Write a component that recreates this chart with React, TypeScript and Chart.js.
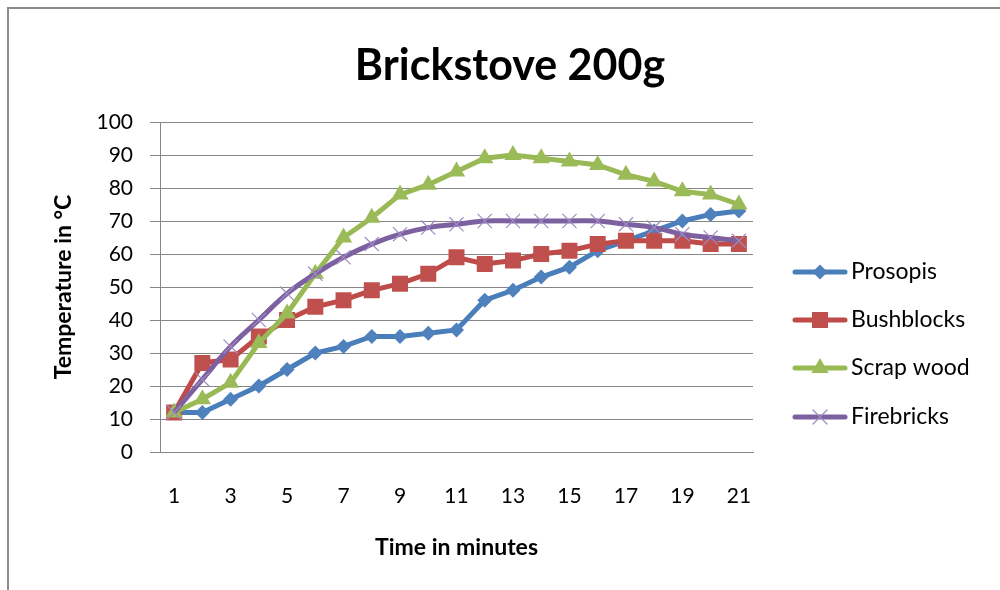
import React, { useEffect, useRef } from "react";
import { Chart, registerables } from "chart.js";

Chart.register(...registerables);

const titleText = "Brickstove 200g";
const xTitle = "Time in minutes";
const yTitle = "Temperature in °C";
const minutes = ["1","2","3","4","5","6","7","8","9","10","11","12","13","14","15","16","17","18","19","20","21"];
const prosopis = [12, 12, 16, 20, 25, 30, 32, 35, 35, 36, 37, 46, 49, 53, 56, 61, 64, 67, 70, 72, 73];
const bushblocks = [12, 27, 28, 35, 40, 44, 46, 49, 51, 54, 59, 57, 58, 60, 61, 63, 64, 64, 64, 63, 63];
const scrapWood = [12, 16, 21, 33, 42, 54, 65, 71, 78, 81, 85, 89, 90, 89, 88, 87, 84, 82, 79, 78, 75];
const firebricks = [12, 22, 32, 40, 48, 54, 59, 63, 66, 68, 69, 70, 70, 70, 70, 70, 69, 68, 66, 65, 64];
const seriesNames = ["Prosopis", "Bushblocks", "Scrap wood", "Firebricks"];

const FONT = "Lato, 'Noto Sans', sans-serif";

const lineColors = ["#4a7ebb", "#be4b48", "#98b954", "#7d60a0"];
const markerColors = ["#4f81bd", "#c0504d", "#9bbb59", "#9f8bc3"];

function drawMarker(ctx: CanvasRenderingContext2D, kind: number, x: number, y: number) {
  ctx.save();
  ctx.fillStyle = markerColors[kind];
  ctx.strokeStyle = markerColors[kind];
  ctx.beginPath();
  if (kind === 0) {
    const r = 7.5;
    ctx.moveTo(x, y - r); ctx.lineTo(x + r, y); ctx.lineTo(x, y + r); ctx.lineTo(x - r, y); ctx.closePath(); ctx.fill();
  } else if (kind === 1) {
    const s = 8;
    ctx.rect(x - s, y - s, 2 * s, 2 * s); ctx.fill();
  } else if (kind === 2) {
    const r = 10;
    ctx.moveTo(x, y - r);
    ctx.lineTo(x + Math.sin(2 * Math.PI / 3) * r, y - Math.cos(2 * Math.PI / 3) * r);
    ctx.lineTo(x + Math.sin(4 * Math.PI / 3) * r, y - Math.cos(4 * Math.PI / 3) * r);
    ctx.closePath(); ctx.fill();
  } else {
    const r = 7;
    ctx.lineWidth = 1.2;
    ctx.moveTo(x - r, y - r); ctx.lineTo(x + r, y + r);
    ctx.moveTo(x + r, y - r); ctx.lineTo(x - r, y + r);
    ctx.stroke();
  }
  ctx.restore();
}

const decorPlugin = {
  id: "decor",
  beforeDraw(chart: any) {
    const ctx = chart.ctx as CanvasRenderingContext2D;
    ctx.save();
    ctx.fillStyle = "#ffffff";
    ctx.fillRect(0, 0, chart.width, chart.height);
    ctx.fillStyle = "#8c8c8c";
    ctx.fillRect(7, 7, chart.width - 7, 2);
    ctx.fillRect(7, 7, 2, chart.height - 7);
    ctx.fillStyle = "#000000";
    ctx.font = `bold 43px ${FONT}`;
    ctx.textAlign = "center";
    ctx.textBaseline = "middle";
    ctx.fillText(titleText, 510, 66);
    ctx.restore();
  },
  afterDraw(chart: any) {
    const ctx = chart.ctx as CanvasRenderingContext2D;
    const rows = [272, 320, 368, 417];
    ctx.save();
    seriesNames.forEach((name, i) => {
      const y = rows[i];
      ctx.strokeStyle = lineColors[i];
      ctx.lineWidth = 5;
      ctx.lineCap = "round";
      ctx.beginPath();
      ctx.moveTo(795, y);
      ctx.lineTo(845, y);
      ctx.stroke();
      drawMarker(ctx, i, 820, y);
      ctx.fillStyle = "#000000";
      ctx.font = `23px ${FONT}`;
      ctx.textAlign = "left";
      ctx.textBaseline = "middle";
      ctx.fillText(name, 851, y);
    });
    ctx.restore();
  },
};

export default function App() {
  const ref = useRef<HTMLCanvasElement | null>(null);
  useEffect(() => {
    if (!ref.current) return;
    const mk = (label: string, data: number[], i: number, style: any, radius: number, extra: any = {}) => ({
      label,
      data,
      borderColor: lineColors[i],
      backgroundColor: markerColors[i],
      pointBackgroundColor: markerColors[i],
      pointBorderColor: markerColors[i],
      pointBorderWidth: i === 3 ? 1.2 : 0,
      borderWidth: 5,
      pointStyle: style,
      pointRadius: radius,
      order: 4 - i,
      tension: 0,
      ...extra,
    });
    const chart = new Chart(ref.current, {
      type: "line",
      data: {
        labels: minutes,
        datasets: [
          mk(seriesNames[0], prosopis, 0, "rectRot", 7.5),
          mk(seriesNames[1], bushblocks, 1, "rect", 11.3),
          mk(seriesNames[2], scrapWood, 2, "triangle", 10),
          mk(seriesNames[3], firebricks, 3, "crossRot", 10, { tension: 0.4, cubicInterpolationMode: "default" }),
        ],
      },
      options: {
        animation: false,
        responsive: false,
        layout: { padding: { left: 0, right: 247, top: 122, bottom: 0 } },
        plugins: { legend: { display: false }, tooltip: { enabled: false }, title: { display: false } },
        scales: {
          x: {
            offset: true,
            grid: { display: false, drawTicks: false },
            border: { display: true, color: "#868686", width: 1 },
            ticks: {
              autoSkip: false,
              maxRotation: 0,
              padding: 32,
              color: "#000000",
              font: { family: FONT, size: 21 },
              callback: (_v: any, i: number) => (i % 2 === 0 ? minutes[i] : ""),
            },
            title: { display: true, text: xTitle, color: "#000000", font: { family: FONT, size: 23, weight: "bold" }, padding: { top: 0, bottom: 29 } },
            afterFit: (s: any) => { s.height = 138; },
          },
          y: {
            min: 0,
            max: 100,
            grid: { color: "#868686", lineWidth: 1, tickLength: 10, drawTicks: true },
            border: { display: true, color: "#868686", width: 1 },
            ticks: { stepSize: 10, padding: 17, color: "#000000", font: { family: FONT, size: 21 } },
            title: { display: true, text: yTitle, color: "#000000", font: { family: FONT, size: 23, weight: "bold" }, padding: { top: 50, bottom: 0 } },
            afterFit: (s: any) => { s.width = 160; },
          },
        },
      },
      plugins: [decorPlugin],
    } as any);
    return () => chart.destroy();
  }, []);
  return (
    <div style={{ position: "absolute", left: 0, top: 0, width: 1000, height: 590 }}>
      <canvas ref={ref} width={1000} height={590} style={{ display: "block" }} />
    </div>
  );
}
